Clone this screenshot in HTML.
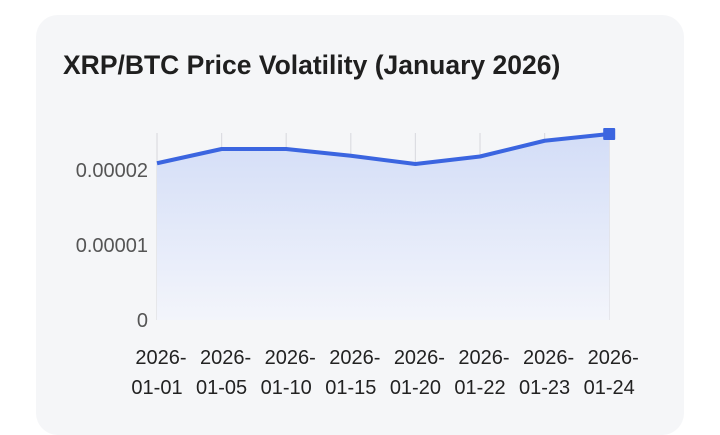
<!DOCTYPE html>
<html><head><meta charset="utf-8"><style>
body{margin:0;width:720px;height:415px;background:#fff;overflow:hidden;font-family:"Liberation Sans",sans-serif}
.card{position:absolute;left:36px;top:15px;width:648px;height:420px;background:#f5f6f8;border-radius:22px}
.title{position:absolute;left:63px;top:50px;font-size:26.5px;font-weight:bold;color:#1f1f1f}
svg{position:absolute;left:0;top:0}
</style></head><body>
<div class="card"></div>
<div class="title">XRP/BTC Price Volatility (January 2026)</div>
<svg id="c" width="720" height="415">
<defs><linearGradient id="g" x1="0" y1="0" x2="0" y2="1"><stop offset="0" stop-color="#d3ddf7"/><stop offset="1" stop-color="#f3f5fb"/></linearGradient></defs>
</svg>
<script>
const categories=["2026-01-01","2026-01-05","2026-01-10","2026-01-15","2026-01-20","2026-01-22","2026-01-23","2026-01-24"];
const values=[0.0000209,0.0000228,0.0000228,0.0000219,0.0000208,0.0000218,0.0000239,0.0000248];
const yTicks=[0,0.00001,0.00002];
const yTickLabels=["0","0.00001","0.00002"];
const svg=document.getElementById('c');const NS="http://www.w3.org/2000/svg";
const x0=157,dx=64.6,yZero=320,perUnit=7.5e6;
const xs=i=>x0+i*dx, ys=v=>yZero-v*perUnit;
function mk(t,a){const e=document.createElementNS(NS,t);for(const k in a)e.setAttribute(k,a[k]);svg.appendChild(e);return e;}
categories.forEach((c,i)=>{
 const l=mk('line',{x1:xs(i),x2:xs(i),y1:133,y2:yZero,stroke:'#dcdde2','stroke-width':1.2});
 
 
 const p=c.split('-');
 const t=mk('text',{x:xs(i)+4,y:364,'font-size':20,fill:'#222','text-anchor':'middle'});t.textContent=p[0]+'-';
 
 
 const t2=mk('text',{x:xs(i),y:394,'font-size':20,fill:'#222','text-anchor':'middle'});t2.textContent=p[1]+'-'+p[2];
 
 
});
yTicks.forEach((v,i)=>{
 const t=mk('text',{x:148,y:ys(v)+7,'font-size':20,fill:'#555','text-anchor':'end'});t.textContent=yTickLabels[i];
 
 
});
let d=values.map((v,i)=>(i?'L':'M')+xs(i)+','+ys(v)).join(' ');
const a=mk('path',{d:d+' L'+xs(values.length-1)+','+yZero+' L'+xs(0)+','+yZero+' Z',fill:'url(#g)'});


const ln=mk('path',{d:d,fill:'none',stroke:'#3b65e0','stroke-width':4,'stroke-linejoin':'round'});


const n=values.length-1;
const m=mk('rect',{x:xs(n)-6,y:ys(values[n])-6,width:12,height:12,fill:'#3b65e0',rx:1});


</script>
</body></html>
